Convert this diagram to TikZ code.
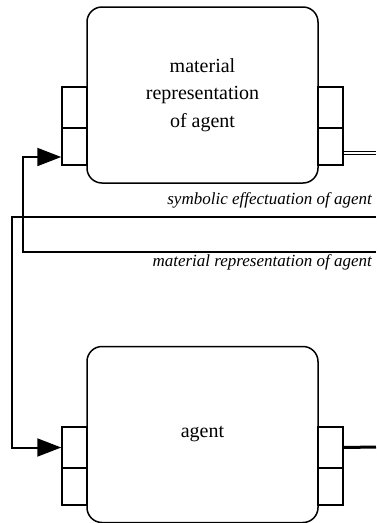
\documentclass[tikz,border=0pt]{standalone}
\usepackage{fontspec}
\setmainfont{Liberation Serif}
\usetikzlibrary{arrows.meta}
\tikzset{
  unitbox/.style={draw, line width=1.5pt, rounded corners=15pt, minimum width=231pt, minimum height=176pt, inner sep=0pt, align=center, font=\fontsize{20}{27.5}\selectfont},
  porthalf/.style={draw, line width=1.5pt, minimum width=25pt, inner sep=0pt, fill=white},
  flow/.style={line width=2pt},
  bigtip/.style={-{Triangle[length=24pt,width=18pt]}},
  flowlabel/.style={anchor=base east, inner sep=0pt, font=\fontsize{17}{20}\selectfont\itshape}
}
\begin{document}
\begin{tikzpicture}[x=1pt,y=-1pt]
\useasboundingbox (0,0) rectangle (376,523);
% top box
\node[unitbox] (mra) at (202.5,95) {material\\representation\\of agent};
\node[porthalf, minimum height=41pt] (mraL1) at (74.5,107.5) {};
\node[porthalf, minimum height=37pt] (mraL2) at (74.5,146.5) {};
\node[porthalf, minimum height=41pt] (mraR1) at (330.5,107.5) {};
\node[porthalf, minimum height=37pt] (mraR2) at (330.5,146.5) {};
% bottom box
\node[unitbox] (ag) at (202.5,434.5) {agent};
\node[porthalf, minimum height=41pt] (agL1) at (74.5,447.5) {};
\node[porthalf, minimum height=37pt] (agL2) at (74.5,486.5) {};
\node[porthalf, minimum height=41pt] (agR1) at (330.5,447.5) {};
\node[porthalf, minimum height=37pt] (agR2) at (330.5,486.5) {};
% free ends
\coordinate (mrIn) at (376,252);
\coordinate (seIn) at (376,217);
\coordinate (mrOut) at (376,153);
\coordinate (agOut) at (376,447);
% connectors
\draw[flow, bigtip] (mrIn) -- (23,252) |- ([yshift=-10.5pt]mraL2.west);
\draw[flow, bigtip] (seIn) -- (12,217) |- (agL1.west);
\draw[line width=1pt, double, double distance=1.6pt] ([yshift=-6.5pt]mraR2.east) -- (mrOut);
\draw[line width=3pt] (agR1.east) -- (agOut);
% labels
\node[flowlabel] (seLab) at (372,204) {symbolic effectuation of agent};
\node[flowlabel] (mrLab) at (372,266) {material representation of agent};
\end{tikzpicture}
\end{document}
